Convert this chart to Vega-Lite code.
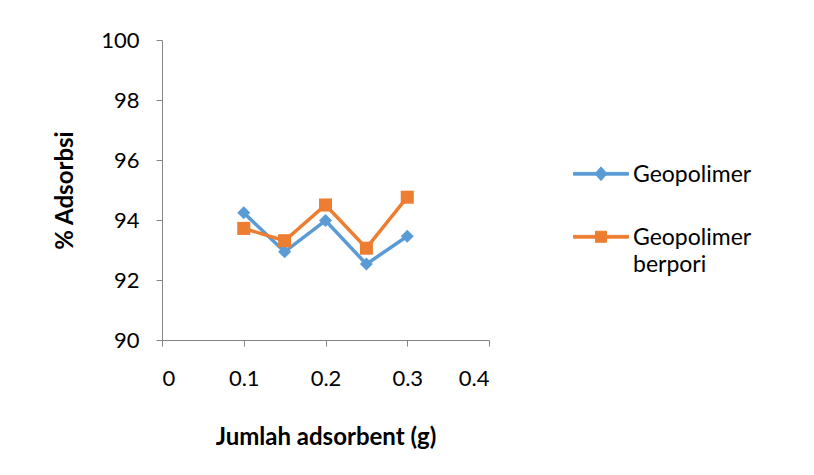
{
  "$schema": "https://vega.github.io/schema/vega-lite/v6.json",
  "width": 327,
  "height": 300,
  "autosize": "none",
  "padding": {"left": 162, "top": 40, "right": 325, "bottom": 135},
  "background": "white",
  "config": {
    "view": {"stroke": null},
    "font": "Lato",
    "style": {"guide-label": {"lineHeight": 27}},
    "axis": {
      "grid": false,
      "domainColor": "#868686",
      "domainWidth": 1,
      "tickColor": "#868686",
      "tickSize": 6,
      "labelFont": "Lato",
      "labelFontSize": 22,
      "labelColor": "#000000",
      "titleFont": "Lato",
      "titleFontSize": 24,
      "titleFontWeight": "bold",
      "titleColor": "#000000"
    }
  },
  "data": {
    "values": [
      {"jumlah": 0.1, "adsorbsi": 94.24, "series": "Geopolimer"},
      {"jumlah": 0.15, "adsorbsi": 92.94, "series": "Geopolimer"},
      {"jumlah": 0.2, "adsorbsi": 93.98, "series": "Geopolimer"},
      {"jumlah": 0.25, "adsorbsi": 92.53, "series": "Geopolimer"},
      {"jumlah": 0.3, "adsorbsi": 93.46, "series": "Geopolimer"},
      {"jumlah": 0.1, "adsorbsi": 93.72, "series": "Geopolimer berpori"},
      {"jumlah": 0.15, "adsorbsi": 93.31, "series": "Geopolimer berpori"},
      {"jumlah": 0.2, "adsorbsi": 94.5, "series": "Geopolimer berpori"},
      {"jumlah": 0.25, "adsorbsi": 93.06, "series": "Geopolimer berpori"},
      {"jumlah": 0.3, "adsorbsi": 94.76, "series": "Geopolimer berpori"}
    ]
  },
  "encoding": {
    "x": {
      "field": "jumlah",
      "type": "quantitative",
      "scale": {"domain": [0, 0.4], "nice": false, "zero": false},
      "axis": {
        "title": "Jumlah adsorbent (g)",
        "values": [0, 0.1, 0.2, 0.3, 0.4],
        "format": "~g",
        "labelPadding": 22,
        "titlePadding": 36
      }
    },
    "y": {
      "field": "adsorbsi",
      "type": "quantitative",
      "scale": {"domain": [90, 100], "nice": false, "zero": false},
      "axis": {
        "title": "% Adsorbsi",
        "values": [90, 92, 94, 96, 98, 100],
        "labelPadding": 17,
        "titlePadding": 23
      }
    },
    "color": {
      "field": "series",
      "type": "nominal",
      "scale": {"domain": ["Geopolimer", "Geopolimer berpori"], "range": ["#5B9BD5", "#ED7D31"]},
      "legend": {
        "title": null,
        "orient": "none",
        "legendX": 411,
        "legendY": 114,
        "symbolSize": 3025,
        "symbolStrokeWidth": 1,
        "symbolOpacity": 1,
        "labelFont": "Lato",
        "labelFontSize": 23,
        "labelColor": "#000000",
        "labelOffset": 4,
        "labelLimit": 0,
        "labelBaseline": "alphabetic",
        "rowPadding": 30,
        "labelExpr": "datum.label == 'Geopolimer berpori' ? ['Geopolimer', 'berpori'] : datum.label"
      }
    }
  },
  "layer": [
    {
      "mark": {"type": "line", "strokeWidth": 3.5}
    },
    {
      "mark": {"type": "point", "filled": true, "opacity": 0, "size": 170},
      "encoding": {
        "shape": {
          "field": "series",
          "type": "nominal",
          "scale": {
            "domain": ["Geopolimer", "Geopolimer berpori"],
            "range": [
              "M-1,-0.35H1V-0.25H-1Z M-0.22,-0.3L0,-0.55L0.22,-0.3L0,-0.05Z",
              "M-1,-0.35H1V-0.25H-1Z M-0.2,-0.5H0.2V-0.1H-0.2Z"
            ]
          },
          "legend": null
        }
      }
    },
    {
      "transform": [{"filter": "datum.series === 'Geopolimer'"}],
      "mark": {"type": "point", "filled": true, "opacity": 1, "size": 170, "shape": "diamond"}
    },
    {
      "transform": [{"filter": "datum.series === 'Geopolimer berpori'"}],
      "mark": {"type": "point", "filled": true, "opacity": 1, "size": 170, "shape": "square"}
    }
  ]
}
